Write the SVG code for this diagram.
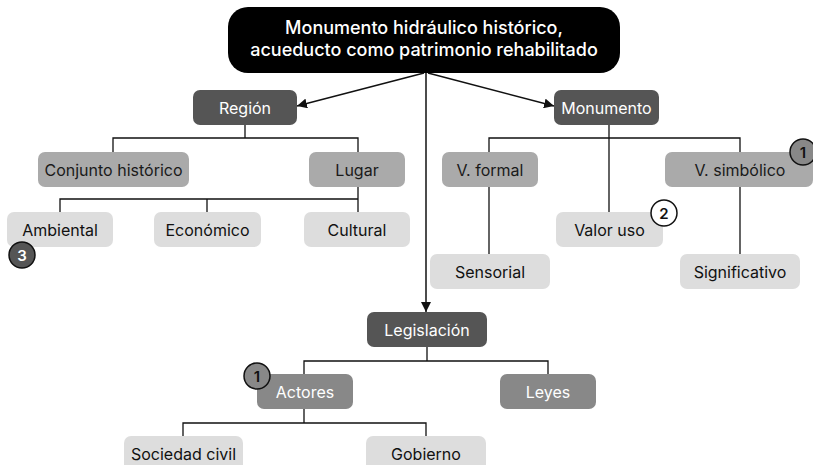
<svg xmlns="http://www.w3.org/2000/svg" width="813" height="465" viewBox="0 0 813 465">
<style>
text{font-family:Inter,"Noto Sans","Liberation Sans",sans-serif;font-size:16px;text-anchor:middle;dominant-baseline:central}
.l1 rect{fill:#555}.l1 text{fill:#fff}
.l2 rect{fill:#aaa}.l2 text{fill:#1a1a1a}
.l2b rect{fill:#888}.l2b text{fill:#fff}
.l3 rect{fill:#ddd}.l3 text{fill:#111}
.c{fill:none;stroke:#111;stroke-width:1.3}
.a{fill:none;stroke:#111;stroke-width:1.5}
.b circle{stroke:#111;stroke-width:1.5}
.b text{font-weight:600;font-size:15px}
</style>
<defs>
<marker id="ar" viewBox="0 0 10 10" refX="10" refY="5" markerWidth="10" markerHeight="10" markerUnits="userSpaceOnUse" orient="auto">
<path d="M0,0L10,5L0,10z" fill="#111"/>
</marker>
</defs>
<rect width="813" height="465" fill="#fff"/>
<g id="connectors">
<path class="a" d="M424,73L297,106" marker-end="url(#ar)"/>
<path class="a" d="M428,73L554,106" marker-end="url(#ar)"/>
<path class="a" d="M426,73L426,312" marker-end="url(#ar)"/>
<path class="c" d="M245,125V138M113,152V138H358V152"/>
<path class="c" d="M358,187V199M60,212V199H358V212M207,199V212"/>
<path class="c" d="M609,125V212M489,152V138H740V152"/>
<path class="c" d="M489,187V254"/>
<path class="c" d="M740,187V254"/>
<path class="c" d="M427,347V361M304,374V361H548V374"/>
<path class="c" d="M304,409V423M183,436V423H426V436"/>
</g>
<g id="root">
<rect x="228" y="7" width="392" height="66" rx="20" fill="#000"/>
<text x="424" y="27" fill="#fff" style="font-size:18px;font-weight:500">Monumento hidráulico histórico,</text>
<text x="424" y="49" fill="#fff" style="font-size:18px;font-weight:500">acueducto como patrimonio rehabilitado</text>
</g>
<g id="region" class="l1"><rect x="193" y="90" width="104" height="35" rx="7"/><text x="245" y="107.5">Región</text></g>
<g id="monumento" class="l1"><rect x="554" y="90" width="105" height="35" rx="7"/><text x="606.5" y="107.5">Monumento</text></g>
<g id="conjunto" class="l2"><rect x="38" y="152" width="151" height="35" rx="7"/><text x="113.5" y="169.5">Conjunto histórico</text></g>
<g id="lugar" class="l2"><rect x="309" y="152" width="96" height="35" rx="7"/><text x="357" y="169.5">Lugar</text></g>
<g id="ambiental" class="l3"><rect x="7" y="212" width="106" height="35" rx="7"/><text x="60" y="229.5">Ambiental</text></g>
<g id="economico" class="l3"><rect x="154" y="212" width="107" height="35" rx="7"/><text x="207.5" y="229.5">Económico</text></g>
<g id="cultural" class="l3"><rect x="304" y="212" width="106" height="35" rx="7"/><text x="357" y="229.5">Cultural</text></g>
<g id="vformal" class="l2"><rect x="442" y="152" width="96" height="35" rx="7"/><text x="490" y="169.5">V. formal</text></g>
<g id="vsimbolico" class="l2"><rect x="665" y="152" width="148" height="35" rx="7"/><text x="740" y="169.5">V. simbólico</text></g>
<g id="valoruso" class="l3"><rect x="556" y="212" width="107" height="35" rx="7"/><text x="609.5" y="229.5">Valor uso</text></g>
<g id="sensorial" class="l3"><rect x="430" y="254" width="120" height="35" rx="7"/><text x="490" y="271.5">Sensorial</text></g>
<g id="significativo" class="l3"><rect x="680" y="254" width="120" height="35" rx="7"/><text x="740" y="271.5">Significativo</text></g>
<g id="legislacion" class="l1"><rect x="367" y="312" width="120" height="35" rx="7"/><text x="427" y="329.5">Legislación</text></g>
<g id="actores" class="l2b"><rect x="257" y="374" width="96" height="35" rx="7"/><text x="305" y="391.5">Actores</text></g>
<g id="leyes" class="l2b"><rect x="500" y="374" width="96" height="35" rx="7"/><text x="548" y="391.5">Leyes</text></g>
<g id="sociedad" class="l3"><rect x="124" y="436" width="119" height="35" rx="7"/><text x="183.5" y="453.5">Sociedad civil</text></g>
<g id="gobierno" class="l3"><rect x="366" y="436" width="120" height="35" rx="7"/><text x="426" y="453.5">Gobierno</text></g>
<g id="badge3" class="b"><circle cx="22" cy="255" r="13" fill="#555"/><text x="22" y="255.5" fill="#fff">3</text></g>
<g id="badge1a" class="b"><circle cx="803" cy="152" r="13" fill="#888"/><text x="803" y="152.5" fill="#111">1</text></g>
<g id="badge2" class="b"><circle cx="664" cy="213" r="13" fill="#fff"/><text x="664" y="213.5" fill="#111">2</text></g>
<g id="badge1b" class="b"><circle cx="257" cy="376" r="13" fill="#888"/><text x="257" y="376.5" fill="#111">1</text></g>
</svg>
